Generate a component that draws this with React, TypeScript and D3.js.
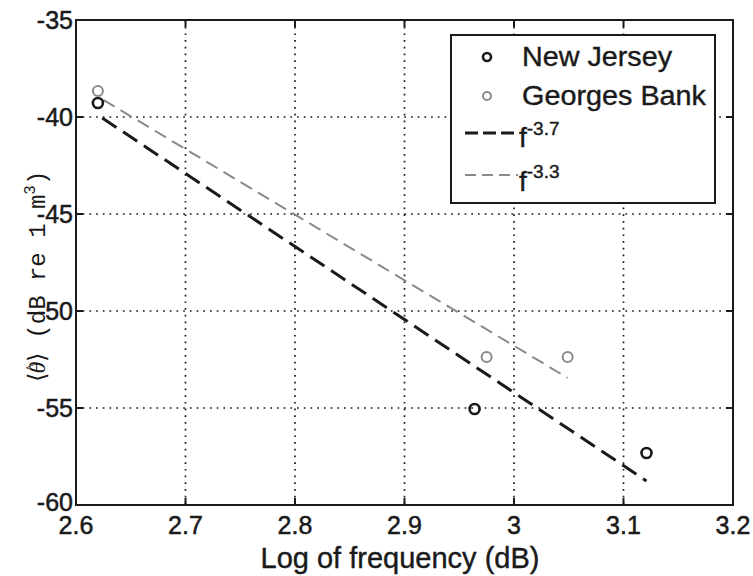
import React from "react";
import * as d3 from "d3";

// values
const xTicks = [2.6, 2.7, 2.8, 2.9, 3, 3.1, 3.2];
const yTicks = [-35, -40, -45, -50, -55, -60];

const njX = [2.62, 2.964, 3.121];
const njY = [-39.28, -55.05, -57.32];
const gbX = [2.62, 2.975, 3.049];
const gbY = [-38.66, -52.37, -52.37];

const fit37X = [2.624, 3.121];
const fit37Y = [-40.05, -58.76];
const fit33X = [2.625, 3.049];
const fit33Y = [-39.12, -53.45];

const W = 753, H = 576;
const margin = { top: 20, right: 20, bottom: 71, left: 76 };
const FONT = "Arial, 'Liberation Sans', Helvetica, sans-serif";
const DARK = "#1a1a1a";
const GREY = "#8a8a8a";

export default function App() {
  const x = d3.scaleLinear().domain([2.6, 3.2]).range([margin.left, W - margin.right]);
  const y = d3.scaleLinear().domain([-60, -35]).range([H - margin.bottom, margin.top]);
  const line = d3.line<[number, number]>().x((d) => x(d[0])).y((d) => y(d[1]));

  const x0 = margin.left, x1 = W - margin.right;
  const y0 = margin.top, y1 = H - margin.bottom;

  const fit37 = fit37X.map((v, i) => [v, fit37Y[i]] as [number, number]);
  const fit33 = fit33X.map((v, i) => [v, fit33Y[i]] as [number, number]);

  // legend box and row centres
  const lg = { x: 451, y: 35, w: 264, h: 168 };
  const rows = [57, 96, 133, 175];

  return (
    <svg width={W} height={H} style={{ position: "absolute", left: 0, top: 0, background: "#fff" }}>
      {/* grid */}
      <g stroke={DARK} strokeWidth={1.7} strokeDasharray="1.7 5">
        {xTicks.slice(1, -1).map((t) => (
          <line key={"gx" + t} x1={x(t)} x2={x(t)} y1={y0} y2={y1} />
        ))}
        {yTicks.slice(1, -1).map((t) => (
          <line key={"gy" + t} x1={x0} x2={x1} y1={y(t)} y2={y(t)} />
        ))}
      </g>

      {/* fit lines */}
      <path d={line(fit37) || ""} fill="none" stroke={DARK} strokeWidth={3} strokeDasharray="17 8" />
      <path d={line(fit33) || ""} fill="none" stroke={GREY} strokeWidth={2} strokeDasharray="13 7" />

      {/* points */}
      {njX.map((v, i) => (
        <circle key={"nj" + i} cx={x(v)} cy={y(njY[i])} r={5} fill="none" stroke={DARK} strokeWidth={2.6} />
      ))}
      {gbX.map((v, i) => (
        <circle key={"gb" + i} cx={x(v)} cy={y(gbY[i])} r={5} fill="none" stroke={GREY} strokeWidth={2} />
      ))}

      {/* frame + ticks */}
      <rect x={x0} y={y0} width={x1 - x0} height={y1 - y0} fill="none" stroke={DARK} strokeWidth={2} />
      <g stroke={DARK} strokeWidth={2}>
        {xTicks.map((t) => (
          <g key={"tx" + t}>
            <line x1={x(t)} x2={x(t)} y1={y1} y2={y1 - 7} />
            <line x1={x(t)} x2={x(t)} y1={y0} y2={y0 + 7} />
          </g>
        ))}
        {yTicks.map((t) => (
          <g key={"ty" + t}>
            <line x1={x0} x2={x0 + 7} y1={y(t)} y2={y(t)} />
            <line x1={x1} x2={x1 - 7} y1={y(t)} y2={y(t)} />
          </g>
        ))}
      </g>

      {/* tick labels */}
      <g fontFamily={FONT} fontSize={25} fill={DARK} stroke={DARK} strokeWidth={0.5}>
        {xTicks.map((t) => (
          <text key={"lx" + t} x={x(t)} y={y1 + 29} textAnchor="middle">
            {d3.format("")(t)}
          </text>
        ))}
        {yTicks.map((t) => (
          <text key={"ly" + t} x={x0 - 3} y={y(t) + (t === -60 ? 6 : 9)} textAnchor="end">
            {t}
          </text>
        ))}
      </g>

      {/* axis labels */}
      <text
        x={400}
        y={H - 8}
        textAnchor="middle"
        fontFamily={FONT}
        fontSize={29}
        fill={DARK}
        stroke={DARK}
        strokeWidth={0.4}
      >
        Log of frequency (dB)
      </text>
      <text
        transform={`translate(45, ${(y0 + y1) / 2 + 14}) rotate(-90)`}
        textAnchor="middle"
        fontFamily="'Liberation Mono', 'Courier New', monospace"
        fontSize={24}
        fill={DARK}
      >
        <tspan fontFamily="'Liberation Serif', serif">⟨</tspan>
        <tspan fontFamily="'Liberation Serif', serif" fontStyle="italic">θ</tspan>
        <tspan fontFamily="'Liberation Serif', serif" fontSize={16} dx={-10} dy={-8}>^</tspan>
        <tspan fontFamily="'Liberation Serif', serif" dx={2} dy={8}>⟩</tspan>
        <tspan> (dB re 1 m</tspan>
        <tspan fontSize={16} dy={-10}>3</tspan>
        <tspan dy={10}>)</tspan>
      </text>

      {/* legend */}
      <rect x={lg.x} y={lg.y} width={lg.w} height={lg.h} fill="#fff" stroke={DARK} strokeWidth={2} />
      <g fontFamily={FONT} fill={DARK} stroke={DARK} strokeWidth={0.4}>
        <circle cx={487} cy={rows[0]} r={4} fill="none" stroke={DARK} strokeWidth={2.6} />
        <text x={522} y={rows[0] + 9} fontSize={28} textLength={150} lengthAdjust="spacingAndGlyphs">
          New Jersey
        </text>
        <circle cx={487} cy={rows[1]} r={4} fill="none" stroke={GREY} strokeWidth={2} />
        <text x={522} y={rows[1] + 9} fontSize={28} textLength={184} lengthAdjust="spacingAndGlyphs">
          Georges Bank
        </text>
        <line x1={465} x2={518} y1={rows[2]} y2={rows[2]} stroke={DARK} strokeWidth={3} strokeDasharray="13 5" />
        <text x={519} y={rows[2] + 14} fontSize={28}>
          f<tspan fontSize={19} dy={-12}>-3.7</tspan>
        </text>
        <line x1={465} x2={518} y1={rows[3]} y2={rows[3]} stroke={GREY} strokeWidth={2} strokeDasharray="11 6" />
        <text x={519} y={rows[3] + 16} fontSize={28}>
          f<tspan fontSize={19} dy={-13}>-3.3</tspan>
        </text>
      </g>
    </svg>
  );
}
